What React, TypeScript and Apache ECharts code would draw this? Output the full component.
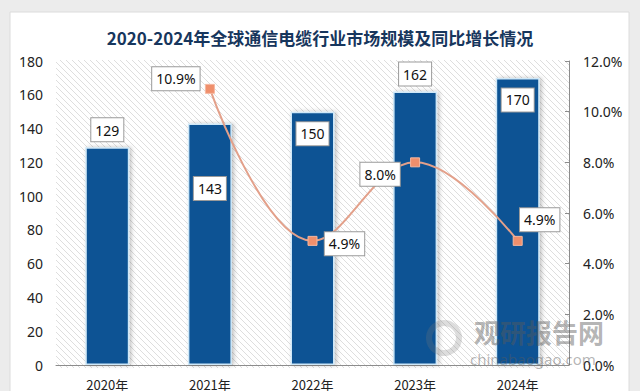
import React, { useEffect, useRef } from "react";
import * as echarts from "echarts";

const categories = ["2020年", "2021年", "2022年", "2023年", "2024年"];
const marketSize = [129, 143, 150, 162, 170];
const growthRate: (number | null)[] = [null, 0.109, 0.049, 0.08, 0.049];
const leftTicks = { min: 0, max: 180, interval: 20 };
const rightTicks = { min: 0, max: 0.12, interval: 0.02 };

// label placement styles (not data)
const barLabelPos: any[] = ["top", ["50%", 65], ["50%", 22], "top", ["50%", 22]];
const lineLabelOffset: number[][] = [[0, 0], [-34, -10], [32, 3], [-35, 12], [22, -21]];

function makeHatch(): string {
  const c = document.createElement("canvas");
  c.width = 6;
  c.height = 6;
  const ctx = c.getContext("2d");
  if (ctx) {
    ctx.fillStyle = "#ffffff";
    ctx.fillRect(0, 0, 6, 6);
    ctx.strokeStyle = "#dedede";
    ctx.lineWidth = 1;
    ctx.beginPath();
    ctx.moveTo(0, 0);
    ctx.lineTo(6, 6);
    ctx.stroke();
  }
  return c.toDataURL();
}

export default function App() {
  const ref = useRef<HTMLDivElement>(null);
  useEffect(() => {
    document.body.style.margin = "0";
    if (!ref.current) return;
    const chart = echarts.init(ref.current, undefined, { renderer: "svg" });
    const hatch = makeHatch();
    const boxLabel = {
      backgroundColor: "#ffffff",
      borderColor: "#9a9a9a",
      borderWidth: 1,
      padding: [5, 4, 4, 4],
      color: "#111",
      fontSize: 14,
      fontFamily: "Noto Sans",
    };
    chart.setOption({
      animation: false,
      backgroundColor: "#ececec",
      title: {
        text: "2020-2024年全球通信电缆行业市场规模及同比增长情况",
        left: "center",
        top: 24,
        textStyle: {
          fontSize: 17,
          fontWeight: "bold",
          color: "#17365d",
          fontFamily: "Noto Sans CJK SC",
        },
      },
      graphic: [
        {
          type: "rect",
          z: -10,
          shape: { x: 10, y: 12, width: 619, height: 390 },
          style: { fill: "#ffffff", stroke: "#dcdcdc", lineWidth: 1 },
        },
        {
          type: "rect",
          z: -9,
          shape: { x: 56, y: 60, width: 513, height: 308 },
          style: { fill: { image: hatch, repeat: "repeat" } as any },
        },
        {
          type: "text",
          z: 100,
          left: 474,
          top: 318,
          style: {
            text: "观研报告网",
            fontSize: 26,
            fontWeight: "bold",
            fill: "rgba(90,90,90,0.45)",
            fontFamily: "Noto Sans CJK SC",
          },
        },
        {
          type: "text",
          z: 100,
          left: 470,
          top: 351,
          style: {
            text: "chinabaogao.com",
            fontSize: 15,
            fill: "rgba(90,90,90,0.45)",
            fontFamily: "Noto Sans",
          },
        },
        {
          type: "ring",
          z: 100,
          shape: { cx: 444, cy: 338, r: 18, r0: 12 },
          style: { fill: "rgba(120,120,120,0.25)" },
        },
      ],
      grid: { left: 56, right: 71, top: 61, bottom: 23 },
      xAxis: {
        type: "category",
        data: categories,
        axisLine: { show: true, lineStyle: { color: "#8c8c8c", width: 1 } },
        axisTick: { show: false },
        axisLabel: { color: "#222", fontSize: 13, margin: 13, fontFamily: "Noto Sans CJK SC" },
      },
      yAxis: [
        {
          type: "value",
          min: leftTicks.min,
          max: leftTicks.max,
          interval: leftTicks.interval,
          axisLine: { show: false },
          axisTick: { show: false },
          splitLine: { show: false },
          axisLabel: { color: "#222", fontSize: 14, margin: 13, fontFamily: "Noto Sans" },
        },
        {
          type: "value",
          min: rightTicks.min,
          max: rightTicks.max,
          interval: rightTicks.interval,
          position: "right",
          axisLine: { show: true, lineStyle: { color: "#8c8c8c", width: 1 } },
          axisTick: { show: true, inside: true, length: 4, lineStyle: { color: "#8c8c8c" } },
          splitLine: { show: false },
          axisLabel: {
            color: "#222",
            fontSize: 14,
            margin: 14,
            fontFamily: "Noto Sans",
            formatter: (v: number) => (v * 100).toFixed(1) + "%",
          },
        },
      ],
      series: [
        {
          type: "bar",
          yAxisIndex: 0,
          barWidth: 44,
          data: marketSize.map((v, i) => ({
            value: v,
            label: {
              show: true,
              position: barLabelPos[i],
              distance: 6,
              align: "center",
              verticalAlign: Array.isArray(barLabelPos[i]) ? "middle" : undefined,
              ...boxLabel,
            },
          })),
          itemStyle: {
            color: "#0b5394",
            borderColor: "#cfe8f8",
            borderWidth: 1.5,
            shadowColor: "rgba(0,0,0,0.25)",
            shadowBlur: 4,
            shadowOffsetX: 2,
            shadowOffsetY: 0,
          },
        },
        {
          type: "line",
          yAxisIndex: 1,
          smooth: 0.4,
          connectNulls: false,
          symbol: "rect",
          symbolSize: 9,
          z: 5,
          lineStyle: { color: "#e3a08a", width: 2 },
          itemStyle: { color: "#ef8f6c", borderColor: "#f5b8a0", borderWidth: 1 },
          data: growthRate.map((v, i) => ({
            value: v,
            label: {
              show: v !== null,
              position: "inside",
              offset: lineLabelOffset[i],
              formatter: (p: any) => (p.value * 100).toFixed(1) + "%",
              ...boxLabel,
            },
          })),
        },
      ],
    });
    return () => chart.dispose();
  }, []);
  return (
    <div
      ref={ref}
      style={{ position: "absolute", left: 0, top: 0, width: 640, height: 391 }}
    />
  );
}
